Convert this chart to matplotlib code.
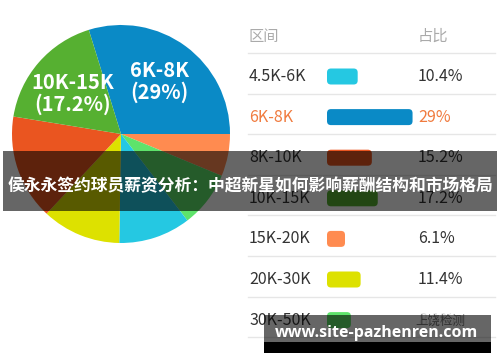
import matplotlib
matplotlib.use('Agg')
import matplotlib.pyplot as plt
from matplotlib.patches import Rectangle, FancyBboxPatch

plt.rcParams['font.family'] = ['Noto Sans CJK SC', 'DejaVu Sans']

# dados da tabela / pizza
faixas = ['4.5K-6K', '6K-8K', '8K-10K', '10K-15K', '15K-20K', '20K-30K', '30K-50K']
percentuais = [10.4, 29, 15.2, 17.2, 6.1, 11.4, 8.1]
cores = ['#25c8e2', '#0a8ac6', '#ea5520', '#56b031', '#ff8b50', '#dde100', '#5ee36b']
ordem_pizza = [1, 4, 6, 0, 5, 2, 3]  # ordem horaria na pizza, a partir do 6K-8K
destaque = 1

titulo = '侯永永签约球员薪资分析：中超新星如何影响薪酬结构和市场格局'
site = 'www.site-pazhenren.com'

W, H = 500, 362
fig = plt.figure(figsize=(W / 100, H / 100), dpi=100)
fig.patch.set_facecolor('white')

# pizza
cx, cy, r = 121, 134, 109
ax_pie = fig.add_axes([(cx - r) / W, (H - cy - r) / H, 2 * r / W, 2 * r / H])
vals = [percentuais[i] for i in ordem_pizza]
cs = [cores[i] for i in ordem_pizza]
inicio = 360 * percentuais[1] / sum(percentuais)
ax_pie.pie(vals, colors=cs, startangle=inicio, counterclock=False,
           wedgeprops=dict(linewidth=0))
ax_pie.set_xlim(-1, 1)
ax_pie.set_ylim(-1, 1)
ax_pie.axis('off')
ax_pie.text(0.35, 0.48, f'{faixas[1]}\n({percentuais[1]:g}%)', color='white',
            fontsize=14.5, fontweight='bold', ha='center', va='center', linespacing=1.05)
ax_pie.text(-0.44, 0.37, f'{faixas[3]}\n({percentuais[3]:g}%)', color='white',
            fontsize=14.5, fontweight='bold', ha='center', va='center', linespacing=1.05)

# tabela em coordenadas de pixel
ax = fig.add_axes([0, 0, 1, 1])
ax.set_xlim(0, W)
ax.set_ylim(H, 0)
ax.axis('off')
ax.patch.set_alpha(0)

ax.text(249, 36, '区间', color='#aaaaaa', fontsize=11, va='center')
ax.text(418, 36, '占比', color='#aaaaaa', fontsize=11, va='center')
ax.plot([248, 495], [53, 53], color='#e6e6e6', lw=1)

y0, passo = 76.5, 40.6
for i, (f, p) in enumerate(zip(faixas, percentuais)):
    y = y0 + i * passo
    cor_txt = '#f07b3f' if i == destaque else '#333333'
    ax.text(249, y, f, color=cor_txt, fontsize=11.5, va='center')
    ax.text(418, y, f'{p:g}%', color=cor_txt, fontsize=11.5, va='center')
    largura = p * 2.95
    ax.add_patch(FancyBboxPatch((327 + 4, y - 8 + 4), largura - 8, 16 - 8,
                                boxstyle='round,pad=4', facecolor=cores[i],
                                edgecolor='none'))
    ax.plot([248, 495], [y + 17, y + 17], color='#e6e6e6', lw=1)

# marca d'agua
ax.text(440, 321, '上饶检测', color='#777777', fontsize=9, ha='center', va='center',
        bbox=dict(facecolor='white', edgecolor='none', alpha=0.85, pad=2), zorder=5)

# faixas escuras por cima
ax.add_patch(Rectangle((3, 151), 494, 60, facecolor='black', alpha=0.6,
                       edgecolor='none', zorder=10))
ax.text(250, 186, titulo, color='white', fontsize=12.1, fontweight='bold',
        ha='center', va='center', zorder=11)
ax.add_patch(Rectangle((264, 315), 227, 27, facecolor='black', alpha=0.6,
                       edgecolor='none', zorder=10))
ax.add_patch(Rectangle((264, 342), 227, 11, facecolor='black',
                       edgecolor='none', zorder=10))
ax.text(376, 333, site, color='white', fontsize=11.5, fontweight='bold',
        ha='center', va='center', zorder=11, family=['Open Sans', 'DejaVu Sans'])

fig.savefig('out.png', dpi=100)
